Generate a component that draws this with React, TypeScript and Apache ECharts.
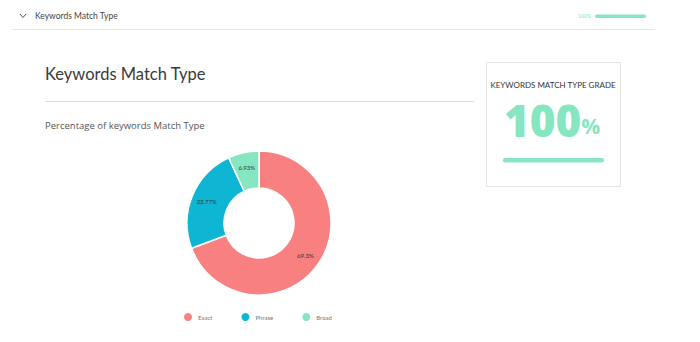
import React, { useEffect, useRef } from "react";
import * as echarts from "echarts";

const categories = ["Exact", "Phrase", "Broad"];
const percentages = [69.3, 23.77, 6.93];
const sliceColors = ["#F98080", "#0FB6D3", "#86E6C2"];
const gradeValue = "100";
const headerTitle = "Keywords Match Type";
const chartTitle = "Keywords Match Type";
const chartSubtitle = "Percentage of keywords Match Type";
const gradeTitle = "KEYWORDS MATCH TYPE GRADE";

export default function App() {
  const ref = useRef<HTMLDivElement>(null);
  useEffect(() => {
    if (!ref.current) return;
    const chart = echarts.init(ref.current, undefined, { renderer: "svg" });
    const green = "#86E6C2";
    chart.setOption({
      animation: false,
      backgroundColor: "#ffffff",
      textStyle: { fontFamily: "Lato" },
      legend: {
        bottom: 14,
        left: 177,
        icon: "circle",
        itemWidth: 10,
        itemHeight: 10,
        itemGap: 27,
        data: categories,
        textStyle: { fontSize: 6, color: "#777", fontFamily: "Lato" },
      },
      series: [
        {
          type: "pie",
          center: [259, 223],
          radius: [35, 72],
          startAngle: 90,
          clockwise: true,
          itemStyle: { borderColor: "#ffffff", borderWidth: 1.5 },
          label: {
            show: true,
            position: "inside",
            formatter: (p: any) => p.value + "%",
            fontSize: 6,
            color: "#333",
            fontFamily: "Lato",
          },
          labelLine: { show: false },
          emphasis: { disabled: true },
          data: categories.map((c, i) => ({
            name: c,
            value: percentages[i],
            itemStyle: { color: sliceColors[i] },
          })),
        },
      ],
      graphic: [
        {
          type: "polyline",
          shape: { points: [[20, 14], [23, 17.5], [26, 14]] },
          style: { stroke: "#555", lineWidth: 1, fill: "none" },
        },
        {
          type: "text",
          x: 35,
          y: 16,
          style: { text: headerTitle, fontSize: 8.5, fill: "#444", fontFamily: "Lato", verticalAlign: "middle" },
        },
        {
          type: "text",
          x: 578,
          y: 16,
          style: { text: gradeValue + "%", fontSize: 5, fill: green, fontFamily: "Lato", verticalAlign: "middle" },
        },
        {
          type: "rect",
          shape: { x: 595, y: 14.5, width: 51, height: 3.5, r: 1.75 },
          style: { fill: green },
        },
        {
          type: "line",
          shape: { x1: 12, y1: 29.5, x2: 655, y2: 29.5 },
          style: { stroke: "#e6e6e6", lineWidth: 1 },
        },
        {
          type: "text",
          x: 45,
          y: 74,
          style: { text: chartTitle, fontSize: 16.5, fontWeight: 400, fill: "#3a3a3a", fontFamily: "Lato", verticalAlign: "middle" },
        },
        {
          type: "line",
          shape: { x1: 45, y1: 101.5, x2: 474, y2: 101.5 },
          style: { stroke: "#dddddd", lineWidth: 1 },
        },
        {
          type: "text",
          x: 45,
          y: 125,
          style: { text: chartSubtitle, fontSize: 9.5, fill: "#555", fontFamily: "Open Sans", verticalAlign: "middle" },
        },
        {
          type: "rect",
          shape: { x: 486.5, y: 62.5, width: 134, height: 124 },
          style: { fill: "#fff", stroke: "#e2e2e2", lineWidth: 1 },
        },
        {
          type: "text",
          x: 553,
          y: 85,
          style: {
            text: gradeTitle,
            fontSize: 8,
            fill: "#333",
            fontFamily: "Lato",
            align: "center",
            verticalAlign: "middle",
          },
        },
        {
          type: "text",
          x: 552,
          y: 120,
          style: {
            text: "{n|" + gradeValue + "}{p|%}",
            align: "center",
            verticalAlign: "middle",
            rich: {
              n: { fontSize: 44, fontWeight: 800, fill: green, color: green, fontFamily: "Open Sans" },
              p: { fontSize: 21, fontWeight: 700, fill: green, color: green, fontFamily: "Open Sans", padding: [12, 0, 0, 0] },
            },
          },
        },
        {
          type: "rect",
          shape: { x: 503, y: 158, width: 101, height: 4.5, r: 2.25 },
          style: { fill: green },
        },
      ],
    });
    return () => chart.dispose();
  }, []);
  return (
    <div
      ref={ref}
      style={{ position: "fixed", left: 0, top: 0, width: 700, height: 342 }}
    />
  );
}
